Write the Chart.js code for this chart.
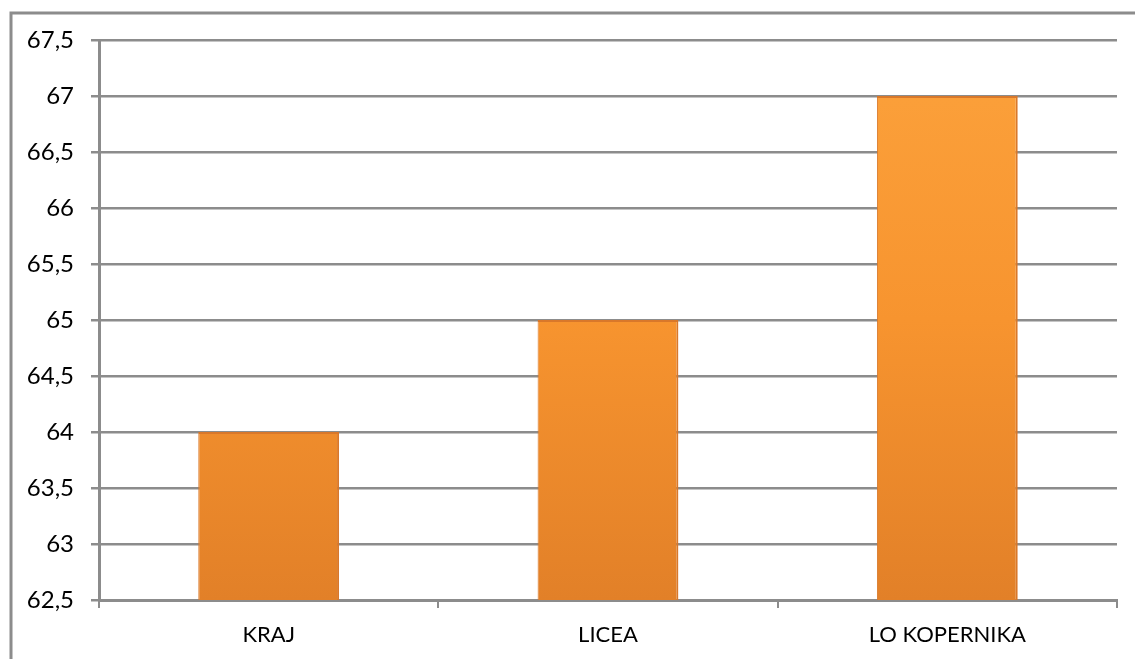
<!DOCTYPE html>
<html>
<head>
<meta charset="utf-8">
<script src="https://cdn.jsdelivr.net/npm/chart.js@4/dist/chart.umd.min.js"></script>
<style>
  html, body { margin: 0; padding: 0; background: #fff; }
  #wrap { width: 1135px; height: 659px; position: relative; }
</style>
</head>
<body>
<div id="wrap"><canvas id="barChart"></canvas></div>
<script>
const categories = ['KRAJ', 'LICEA', 'LO KOPERNIKA'];
const scores = [64, 65, 67];
const yMin = 62.5;
const yMax = 67.5;
const yStep = 0.5;

const gridGrey = '#8c8c8c';

// outer frame like the spreadsheet chart border
const frame = {
    id: 'frame',
    beforeDraw(chart) {
        const ctx = chart.ctx;
        ctx.save();
        ctx.strokeStyle = '#8c8c8c';
        ctx.lineWidth = 3;
        ctx.beginPath();
        ctx.moveTo(11, chart.height + 5);
        ctx.lineTo(11, 13);
        ctx.lineTo(chart.width + 5, 13);
        ctx.stroke();
        ctx.restore();
    }
};

function barFill(context) {
    const area = context.chart.chartArea;
    if (!area) return '#f59432';
    const g = context.chart.ctx.createLinearGradient(0, area.top, 0, area.bottom);
    g.addColorStop(0, '#fca23c');
    g.addColorStop(0.5, '#f7942f');
    g.addColorStop(1, '#e28028');
    return g;
}

new Chart(document.getElementById('barChart'), {
    type: 'bar',
    plugins: [frame],
    data: {
        labels: categories,
        datasets: [{
            data: scores,
            backgroundColor: barFill,
            borderColor: '#d9782a',
            borderWidth: { top: 2, left: 1, right: 2, bottom: 0 },
            borderSkipped: false,
            categoryPercentage: 1,
            barPercentage: 0.415,
        }]
    },
    options: {
        responsive: true,
        maintainAspectRatio: false,
        animation: false,
        layout: { padding: { top: 40, right: 18, left: 0, bottom: 0 } },
        plugins: {
            legend: { display: false },
            tooltip: { enabled: false },
        },
        scales: {
            x: {
                grid: {
                    offset: true,
                    drawOnChartArea: false,
                    color: gridGrey,
                    lineWidth: 2,
                    tickLength: 8,
                },
                border: { color: gridGrey, width: 3 },
                ticks: {
                    color: '#000',
                    padding: 14,
                    font: { family: 'Lato', size: 22 },
                    maxRotation: 0,
                },
                afterFit(scale) { scale.height = 59; },
            },
            y: {
                min: yMin,
                max: yMax,
                grid: {
                    color: gridGrey,
                    lineWidth: 2.5,
                    tickLength: 8,
                },
                border: { color: gridGrey, width: 3 },
                ticks: {
                    stepSize: yStep,
                    color: '#000',
                    padding: 17,
                    font: { family: 'Lato', size: 24 },
                    callback: v => String(v).replace('.', ','),
                },
                afterFit(scale) { scale.width = 99; },
            }
        }
    }
});
</script>
</body>
</html>
